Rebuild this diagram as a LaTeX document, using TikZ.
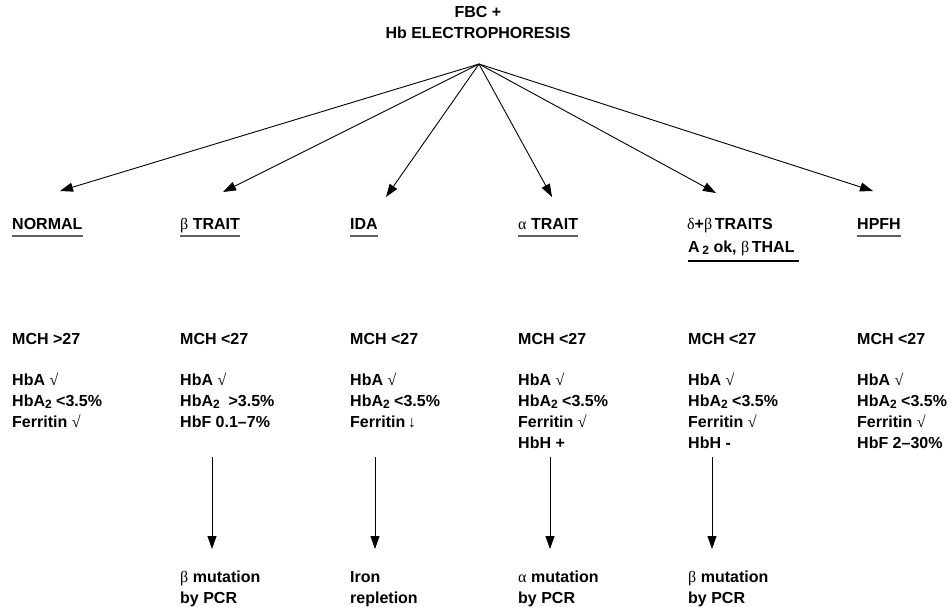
\documentclass[tikz,border=0pt]{standalone}
\usepackage{fontspec}
\setmainfont{Liberation Sans}
\newfontfamily\grfont{Liberation Serif}
\usetikzlibrary{arrows.meta}
\newcommand{\subtwo}{\raisebox{-2.5pt}{\fontsize{12}{12}\selectfont 2}}
\newcommand{\gB}{{\grfont\mdseries β}}
\newcommand{\gA}{{\grfont\mdseries α}}
\newcommand{\gD}{{\grfont\mdseries δ}}
\newcommand{\okmark}{{\grfont\mdseries √}}
\newcommand{\dnarrow}{{\grfont\mdseries ↓}}
\tikzset{
  txt/.style={anchor=base west, inner sep=0pt, font=\fontsize{16}{21}\selectfont\bfseries},
  arr/.style={-{Triangle[length=13pt,width=9pt]}, line width=0.9pt},
  uline/.style={line width=1.4pt, black!62},
  ulineb/.style={line width=1.4pt, black}
}
\begin{document}
\begin{tikzpicture}[x=1pt,y=-1pt]
\useasboundingbox (0,0) rectangle (951,606);
% title (base anchor = last line's baseline)
\node[txt, anchor=base, align=center] (title) at (478,38) {FBC +\\Hb ELECTROPHORESIS};
\coordinate (apex) at (479,64);
% headers
\node[txt] (hN) at (12,229) {NORMAL};
\node[txt] (hB) at (180,229) {\gB\ TRAIT};
\node[txt] (hI) at (350,229) {IDA};
\node[txt] (hA) at (518,229) {\gA\ TRAIT};
\node[txt] (hD) at (687,229) {\gD+\gB\,TRAITS};
\node[txt] (hD2) at (688,252) {A\,\subtwo\ ok, \gB\,THAL};
\node[txt] (hH) at (857,229) {HPFH};
\foreach \n in {hN,hB,hI,hA,hH}
  \draw[uline] ([yshift=-7pt]\n.base west) -- ([yshift=-7pt]\n.base east);
\draw[ulineb] ([yshift=-9pt]hD2.base west) -- ([xshift=4pt,yshift=-9pt]hD2.base east);
% arrow tips
\coordinate (tN) at (60,191);
\coordinate (tB) at (223,192);
\coordinate (tI) at (386,197);
\coordinate (tA) at (552,197);
\coordinate (tD) at (716,193);
\coordinate (tH) at (873,191);
\foreach \t in {tN,tB,tI,tA,tD,tH}
  \draw[arr] (apex) -- (\t);
% MCH row
\node[txt] (mN) at (12,344) {MCH >27};
\node[txt] (mB) at (180,344) {MCH <27};
\node[txt] (mI) at (350,344) {MCH <27};
\node[txt] (mA) at (518,344) {MCH <27};
\node[txt] (mD) at (688,344) {MCH <27};
\node[txt] (mH) at (857,344) {MCH <27};
% details (first baseline 385, line step 21; base anchor = last line)
\node[txt, align=left] (dN) at (12,427) {HbA \okmark\\HbA\subtwo\ <3.5\%\\Ferritin \okmark};
\node[txt, align=left] (dB) at (180,427) {HbA \okmark\\HbA\subtwo\ \ >3.5\%\\HbF 0.1–7\%};
\node[txt, align=left] (dI) at (350,427) {HbA \okmark\\HbA\subtwo\ <3.5\%\\Ferritin\,\dnarrow};
\node[txt, align=left] (dA) at (518,448) {HbA \okmark\\HbA\subtwo\ <3.5\%\\Ferritin \okmark\\HbH +};
\node[txt, align=left] (dD) at (688,448) {HbA \okmark\\HbA\subtwo\ <3.5\%\\Ferritin \okmark\\HbH -};
\node[txt, align=left] (dH) at (857,448) {HbA \okmark\\HbA\subtwo\ <3.5\%\\Ferritin \okmark\\HbF 2–30\%};
% vertical arrows
\coordinate (sB) at (212,457); \coordinate (eB) at (212,549);
\coordinate (sI) at (375,457); \coordinate (eI) at (375,549);
\coordinate (sA) at (550,457); \coordinate (eA) at (550,549);
\coordinate (sD) at (712,457); \coordinate (eD) at (712,549);
\foreach \a in {B,I,A,D}
  \draw[arr] (s\a) -- (e\a);
% outcomes
\node[txt, align=left] (oB) at (180,603) {\gB\ mutation\\by PCR};
\node[txt, align=left] (oI) at (350,603) {Iron\\repletion};
\node[txt, align=left] (oA) at (518,603) {\gA\ mutation\\by PCR};
\node[txt, align=left] (oD) at (688,603) {\gB\ mutation\\by PCR};
\end{tikzpicture}
\end{document}
